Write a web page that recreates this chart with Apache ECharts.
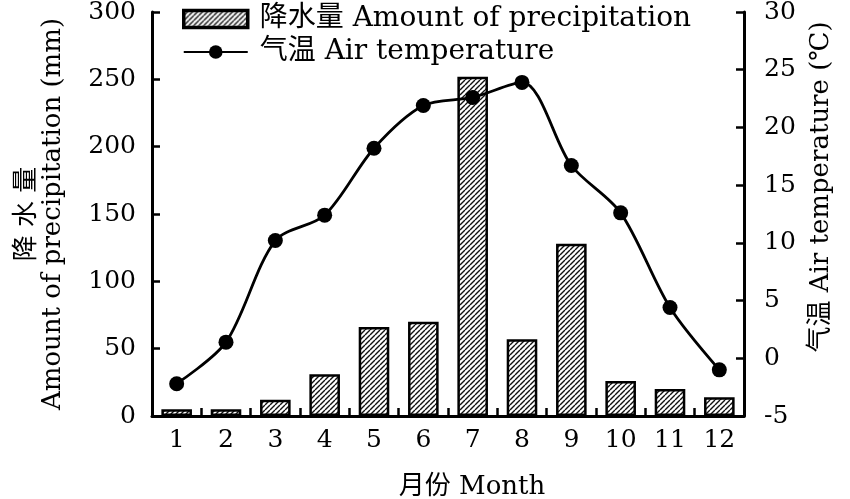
<!DOCTYPE html>
<html><head><meta charset="utf-8">
<script src="https://cdn.jsdelivr.net/npm/echarts@6/dist/echarts.min.js"></script>
<style>html,body{margin:0;padding:0;background:#fff}#c{width:850px;height:499px}</style>
</head><body><div id="c"></div>
<script>
const months = ['1','2','3','4','5','6','7','8','9','10','11','12'];
const precipitation = [5, 5, 12, 31, 66, 70, 252, 57, 128, 26, 20, 14];
const temperature = [-2.2, 1.4, 10.2, 12.4, 18.2, 21.9, 22.6, 23.9, 16.7, 12.6, 4.4, -1.0];
const precipName = '降水量 Amount of precipitation';
const tempName = '气温 Air temperature';

const FONT = "'DejaVu Serif','Liberation Serif','Noto Sans CJK SC',serif";

function hatch() {
  const s = 5;
  const c = document.createElement('canvas');
  c.width = s; c.height = s;
  const g = c.getContext('2d');
  g.fillStyle = '#fff'; g.fillRect(0, 0, s, s);
  g.strokeStyle = '#111'; g.lineWidth = 1.4;
  g.beginPath();
  for (let k = -1; k <= 1; k++) {
    g.moveTo(k * s, s); g.lineTo(k * s + s, 0);
  }
  g.stroke();
  return c;
}

const chart = echarts.init(document.getElementById('c'), null, {renderer: 'canvas'});
const axisLine = {show: true, lineStyle: {color: '#000', width: 3}};
const tick = {show: true, inside: true, length: 8, lineStyle: {color: '#000', width: 2.5}};
const lbl = {color: '#000', fontFamily: FONT, fontSize: 25};

chart.setOption({
  backgroundColor: '#fff',
  animation: false,
  grid: {left: 152, right: 106, top: 12, bottom: 83, containLabel: false, outerBoundsMode: 'none'},
  legend: {
    orient: 'vertical', left: 177, top: 0, itemWidth: 64, itemHeight: 17, itemGap: 5,
    textStyle: {color: '#000', fontFamily: FONT, fontSize: 28, padding: [0, 0, 0, 7]},
    data: [{name: precipName, icon: 'rect', itemStyle: {borderWidth: 3.5}}, {name: tempName}]
  },
  xAxis: {
    type: 'category', data: months,
    axisLine: axisLine, axisTick: Object.assign({alignWithLabel: false}, tick),
    axisLabel: Object.assign({margin: 12}, lbl),
    name: '月份 Month', nameLocation: 'middle', nameGap: 58,
    nameTextStyle: {color: '#000', fontFamily: FONT, fontSize: 26, padding: [0, 0, 0, 48]},
    splitLine: {show: false}
  },
  yAxis: [{
    type: 'value', min: 0, max: 300, interval: 50, position: 'left',
    axisLine: axisLine, axisTick: tick,
    axisLabel: Object.assign({margin: 16}, lbl),
    splitLine: {show: false},
    name: '降 水 量\nAmount of precipitation (mm)', nameLocation: 'middle', nameGap: 86, nameRotate: 90,
    nameTextStyle: {color: '#000', fontFamily: FONT, fontSize: 26, lineHeight: 26}
  }, {
    type: 'value', min: -5, max: 30, interval: 5, position: 'right',
    axisLine: axisLine, axisTick: tick,
    axisLabel: Object.assign({margin: 20}, lbl),
    splitLine: {show: false},
    name: '气温 Air temperature (℃)', nameLocation: 'middle', nameGap: 64, nameRotate: 90,
    nameTextStyle: {color: '#000', fontFamily: FONT, fontSize: 26, padding: [0, 0, 0, 54]}
  }],
  series: [{
    name: precipName, type: 'bar', data: precipitation, yAxisIndex: 0, barWidth: '62%',
    itemStyle: {color: {image: hatch(), repeat: 'repeat'}, borderColor: '#000', borderWidth: 2.5}
  }, {
    name: tempName, type: 'line', data: temperature, yAxisIndex: 1, smooth: 0.3,
    symbol: 'circle', symbolSize: 15,
    lineStyle: {color: '#000', width: 2.8},
    itemStyle: {color: '#000'}
  }]
});
</script></body></html>
